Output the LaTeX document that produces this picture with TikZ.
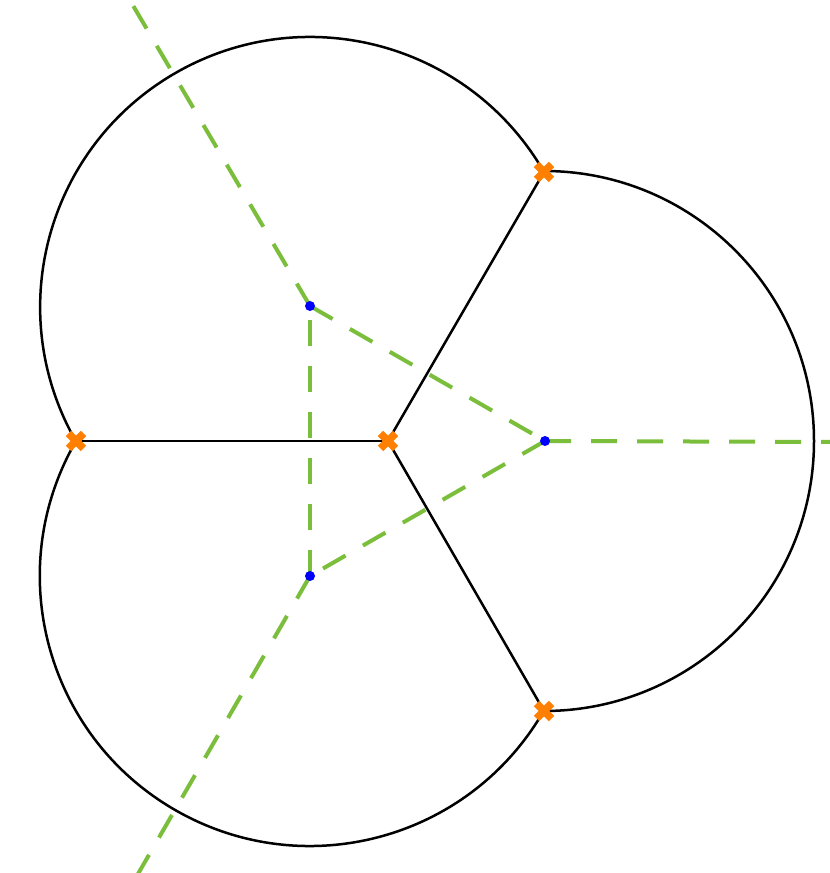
\documentclass[tikz,border=0pt]{standalone}
\usetikzlibrary{calc}
\definecolor{vgreen}{RGB}{122,190,60}
\definecolor{vorange}{RGB}{255,127,0}
\definecolor{vblue}{RGB}{0,0,255}
\tikzset{
  edgeline/.style={black,line width=2.5pt},
  arcline/.style={black,line width=2.5pt},
  dualline/.style={vgreen,line width=4pt,dash pattern=on 26pt off 20pt},
  vdot/.style={circle,fill=vblue,inner sep=0pt,minimum size=10pt},
  xmark/.style={vorange,line width=7.5pt},
}
\begin{document}
\begin{tikzpicture}[x=1pt,y=1pt]
\useasboundingbox (0,0) rectangle (830,873);
% centres
\coordinate (A) at (310,567);
\coordinate (B) at (545,432);
\coordinate (C) at (310,297);
% crossing points
\coordinate (P0) at (388,432);
\coordinate (P1) at (76,432);
\coordinate (P2) at (544,701);
\coordinate (P3) at (544,162);
% free ends of rays
\coordinate (RA) at ($(A)+(120.5:360)$);
\coordinate (RB) at (832,431);
\coordinate (RC) at ($(C)+(240:350)$);
% arcs
\draw[arcline] (P2) arc[start angle=30,end angle=210,radius=270];
\draw[arcline] (P3) arc[start angle=-90,end angle=90,radius=270];
\draw[arcline] (P1) arc[start angle=150,end angle=330,radius=270];
% black segments
\draw[edgeline] (P0) -- (P1);
\draw[edgeline] (P0) -- (P2);
\draw[edgeline] (P0) -- (P3);
% green dashed
\draw[dualline] (A) -- (B);
\draw[dualline] (B) -- (C);
\draw[dualline] (C) -- (A);
\draw[dualline] (A) -- (RA);
\draw[dualline] (B) -- (RB);
\draw[dualline] (C) -- (RC);
% blue dots
\node[vdot] (a) at (A) {};
\node[vdot] (b) at (B) {};
\node[vdot] (c) at (C) {};
% orange crosses
\foreach \p in {P0,P1,P2,P3}{
  \draw[xmark] ($(\p)+(-7.5,-7.5)$) -- ($(\p)+(7.5,7.5)$);
  \draw[xmark] ($(\p)+(-7.5,7.5)$) -- ($(\p)+(7.5,-7.5)$);
}
\end{tikzpicture}
\end{document}
